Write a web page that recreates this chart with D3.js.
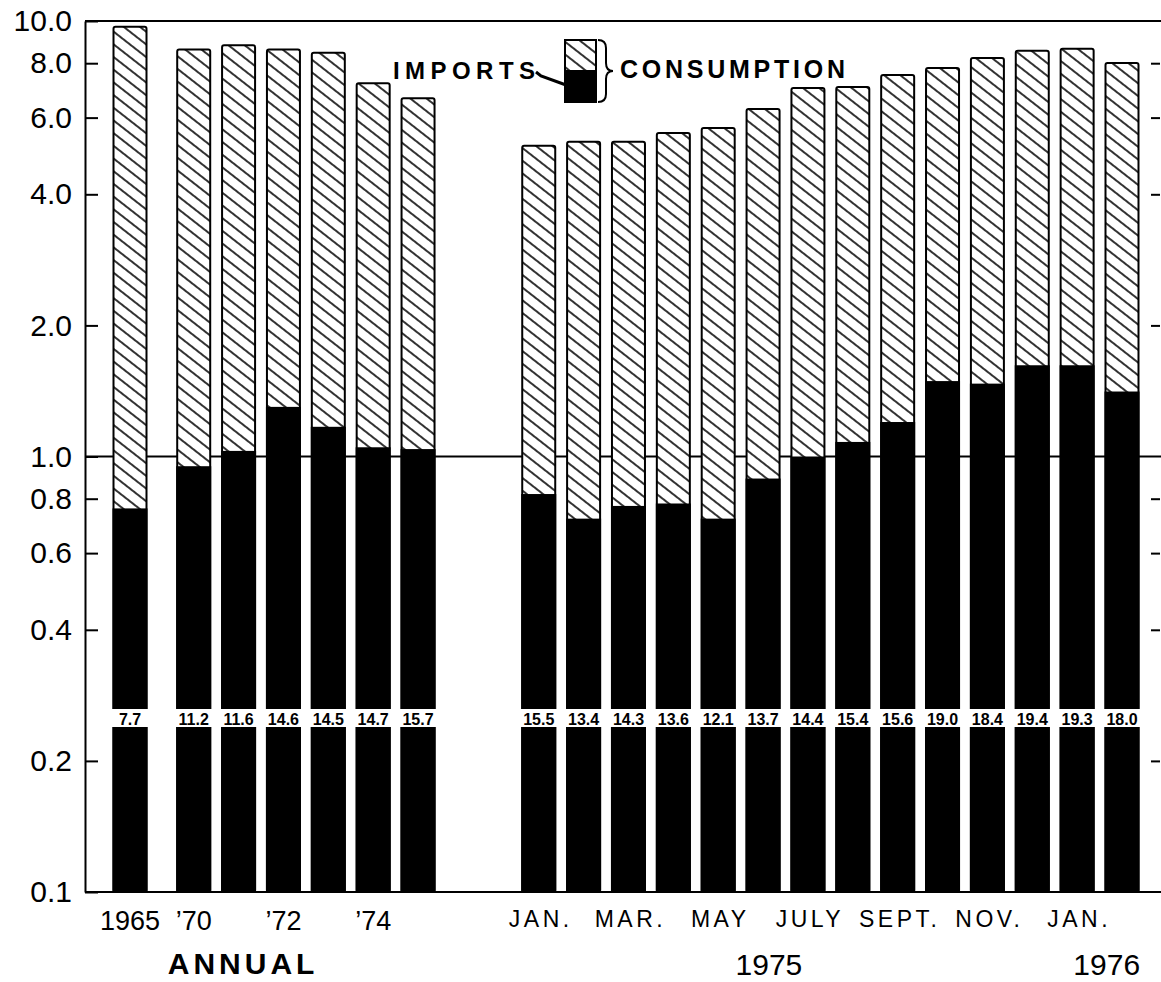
<!DOCTYPE html>
<html>
<head>
<meta charset="utf-8">
<script src="https://cdn.jsdelivr.net/npm/d3@7"></script>
<style>
  html, body { margin: 0; padding: 0; background: #fff; }
  svg { display: block; }
  text { font-family: "Liberation Sans", Arial, Helvetica, sans-serif; fill: #000; }
</style>
</head>
<body>
<div id="chart"></div>
<script>
// ---------------- DATA ----------------
const annualCats = ["1965", "1970", "1971", "1972", "1973", "1974", "1975"];
const annualTickLabels = ["1965", "\u201970", "", "\u201972", "", "\u201974", ""];
const annualConsumption = [9.7, 8.6, 8.8, 8.6, 8.45, 7.2, 6.65];
const annualImports = [0.76, 0.95, 1.03, 1.30, 1.17, 1.05, 1.04];
const annualShare = ["7.7", "11.2", "11.6", "14.6", "14.5", "14.7", "15.7"];

const monthCats = ["1975-01", "1975-02", "1975-03", "1975-04", "1975-05", "1975-06", "1975-07",
  "1975-08", "1975-09", "1975-10", "1975-11", "1975-12", "1976-01", "1976-02"];
const monthTickLabels = ["JAN.", "", "MAR.", "", "MAY", "", "JULY", "", "SEPT.", "", "NOV.", "", "JAN.", ""];
const monthConsumption = [5.17, 5.28, 5.28, 5.53, 5.68, 6.28, 7.02, 7.05, 7.52, 7.8, 8.22, 8.54, 8.63, 8.01];
const monthImports = [0.82, 0.72, 0.77, 0.78, 0.72, 0.89, 1.0, 1.08, 1.2, 1.49, 1.47, 1.62, 1.62, 1.41];
const monthShare = ["15.5", "13.4", "14.3", "13.6", "12.1", "13.7", "14.4", "15.4", "15.6", "19.0", "18.4", "19.4", "19.3", "18.0"];

const yTickValues = [10, 8, 6, 4, 2, 1, 0.8, 0.6, 0.4, 0.2, 0.1];
const periodLabels = ["1975", "1976"];
const groupLabel = "ANNUAL";
const legendImports = "IMPORTS";
const legendConsumption = "CONSUMPTION";

// ---------------- LAYOUT ----------------
const W = 1161, H = 982;
const plotLeft = 85, plotRight = 1161, plotTop = 21, plotBottom = 892;
const firstGap = 0.42;        // extra spacing after 1965 (break in years)
const monthStart = 9.11;      // slot where the monthly series starts
const yearLabelSlots = [monthStart + 5.13, monthStart + 12.66];
const annualLabelSlot = 2.52;
const barW = 33;
const bandTop = 709, bandH = 18;

const annualSlot = i => i === 0 ? 0 : i + firstGap;
const monthSlot = i => monthStart + i;

const bars = [
  ...annualCats.map((c, i) => ({ cat: c, slot: annualSlot(i), total: annualConsumption[i], imp: annualImports[i], share: annualShare[i], tick: annualTickLabels[i], group: "A" })),
  ...monthCats.map((c, i) => ({ cat: c, slot: monthSlot(i), total: monthConsumption[i], imp: monthImports[i], share: monthShare[i], tick: monthTickLabels[i], group: "M" }))
];

const x = d3.scaleLinear().domain([0, monthSlot(13)]).range([130, 1122]);
const y = d3.scaleLog().domain([0.1, 10]).range([plotBottom, plotTop]);

const svg = d3.select("#chart").append("svg").attr("width", W).attr("height", H);
svg.append("rect").attr("width", W).attr("height", H).attr("fill", "#fff");

const defs = svg.append("defs");
const pat = defs.append("pattern").attr("id", "hatch").attr("patternUnits", "userSpaceOnUse")
  .attr("width", 10).attr("height", 10).attr("patternTransform", "rotate(38)");
pat.append("rect").attr("width", 10).attr("height", 10).attr("fill", "#fff");
pat.append("line").attr("x1", 0).attr("y1", 5).attr("x2", 10).attr("y2", 5)
  .attr("stroke", "#000").attr("stroke-width", 1.6);

// reference line at 1.0 and frame lines
svg.append("line").attr("x1", plotLeft).attr("x2", plotRight).attr("y1", y(1)).attr("y2", y(1))
  .attr("stroke", "#000").attr("stroke-width", 1.8);
svg.append("line").attr("x1", plotLeft).attr("x2", plotRight).attr("y1", plotTop).attr("y2", plotTop)
  .attr("stroke", "#000").attr("stroke-width", 2);
svg.append("line").attr("x1", plotLeft).attr("x2", plotRight).attr("y1", plotBottom).attr("y2", plotBottom)
  .attr("stroke", "#000").attr("stroke-width", 2);

// bars
const g = svg.append("g").selectAll("g").data(bars).join("g");
g.append("rect")
  .attr("x", d => x(d.slot) - barW / 2).attr("width", barW)
  .attr("y", d => y(d.total)).attr("height", d => y(0.1) - y(d.total))
  .attr("fill", "url(#hatch)").attr("stroke", "#000").attr("stroke-width", 2).attr("rx", 2);
g.append("rect")
  .attr("x", d => x(d.slot) - barW / 2 - 1).attr("width", barW + 2)
  .attr("y", d => y(d.imp)).attr("height", d => y(0.1) - y(d.imp))
  .attr("fill", "#000");
g.append("rect")
  .attr("x", d => x(d.slot) - barW / 2 - 2).attr("width", barW + 4)
  .attr("y", bandTop).attr("height", bandH).attr("fill", "#fff");
g.append("text")
  .attr("x", d => x(d.slot)).attr("y", bandTop + bandH - 2)
  .attr("text-anchor", "middle").attr("font-size", 16).attr("font-weight", "bold")
  .text(d => d.share);

// left axis
const yAxis = d3.axisLeft(y).tickValues(yTickValues).tickFormat(d3.format(".1f"))
  .tickSizeInner(-13).tickSizeOuter(0).tickPadding(13);
const ya = svg.append("g").attr("transform", `translate(${plotLeft},0)`).call(yAxis);
ya.select(".domain").attr("stroke", "#000").attr("stroke-width", 2);
ya.selectAll(".tick line").attr("stroke", "#000").attr("stroke-width", 2);
ya.selectAll(".tick text").attr("font-size", 30).attr("fill", "#000")
  .attr("font-family", "'Liberation Sans', Arial, sans-serif");

// right axis ticks (inward)
const yAxisR = d3.axisRight(y).tickValues(yTickValues.filter(v => v !== 10 && v !== 1 && v !== 0.1))
  .tickFormat("").tickSizeInner(-9).tickSizeOuter(0);
const yr = svg.append("g").attr("transform", `translate(${W - 1},0)`).call(yAxisR);
yr.select(".domain").remove();
yr.selectAll(".tick line").attr("stroke", "#000").attr("stroke-width", 2);

// x tick labels
svg.append("g").selectAll("text").data(bars.filter(d => d.group === "A" && d.tick)).join("text")
  .attr("x", d => x(d.slot)).attr("y", 930).attr("text-anchor", "middle")
  .attr("font-size", 27).text(d => d.tick);
svg.append("g").selectAll("text").data(bars.filter(d => d.group === "M" && d.tick)).join("text")
  .attr("x", d => x(d.slot) + 2).attr("y", 927).attr("text-anchor", "middle")
  .attr("font-size", 23).attr("letter-spacing", 3.5).text(d => d.tick);

// period labels
svg.append("g").selectAll("text").data(periodLabels).join("text")
  .attr("x", (d, i) => x(yearLabelSlots[i])).attr("y", 975).attr("text-anchor", "middle")
  .attr("font-size", 30).text(d => d);
svg.append("text").attr("x", x(annualLabelSlot)).attr("y", 974).attr("text-anchor", "middle")
  .attr("font-size", 30).attr("font-weight", "bold").attr("letter-spacing", 4).text(groupLabel);

// legend
const lg = svg.append("g");
lg.append("rect").attr("x", 565).attr("y", 40).attr("width", 31).attr("height", 62)
  .attr("fill", "url(#hatch)").attr("stroke", "#000").attr("stroke-width", 2);
lg.append("rect").attr("x", 564).attr("y", 70).attr("width", 33).attr("height", 33).attr("fill", "#000");
lg.append("path")
  .attr("d", "M598,40 Q606,40 606,48 L606,63 Q606,71 613,71 Q606,71 606,79 L606,94 Q606,102 598,102")
  .attr("fill", "none").attr("stroke", "#000").attr("stroke-width", 2);
lg.append("path").attr("d", "M536,72 L541,76 L566,85")
  .attr("fill", "none").attr("stroke", "#000").attr("stroke-width", 3);
lg.append("text").attr("x", 393).attr("y", 79).attr("font-size", 24).attr("font-weight", "bold")
  .attr("textLength", 142).attr("lengthAdjust", "spacing").text(legendImports);
lg.append("text").attr("x", 620).attr("y", 78).attr("font-size", 25).attr("font-weight", "bold")
  .attr("textLength", 225).attr("lengthAdjust", "spacing").text(legendConsumption);
</script>
</body>
</html>
